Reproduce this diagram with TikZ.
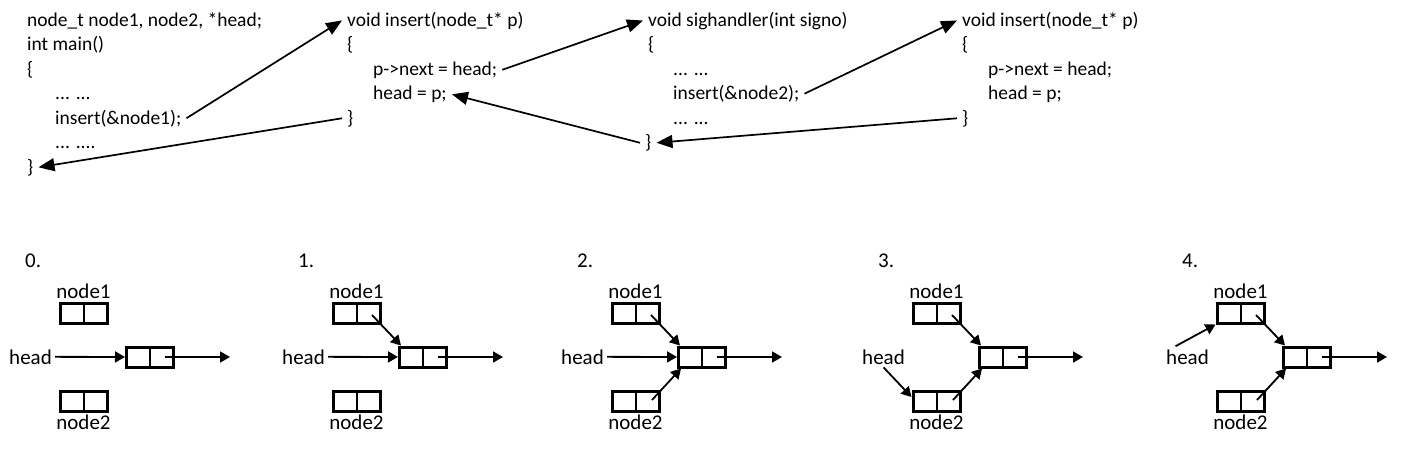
\documentclass[tikz,border=0pt]{standalone}
\usepackage{fontspec}
\setmainfont{Carlito}
\usetikzlibrary{arrows.meta,calc}
\begin{document}
\begin{tikzpicture}[x=1pt,y=-1pt,
  code/.style={anchor=base west, inner sep=5pt, font=\fontsize{19.5}{24}\selectfont},
  lbl/.style={inner sep=3pt, font=\fontsize{21}{24}\selectfont},
  bigarr/.style={line width=1.7pt, -{Triangle[length=16pt,width=13pt]}},
  arr/.style={line width=1.8pt, -{Triangle[length=10pt,width=11pt]}},
  cell/.style={draw, line width=3pt, minimum width=47pt, minimum height=20pt,
    inner sep=0pt, outer sep=1.5pt,
    path picture={\draw[line width=2pt] (path picture bounding box.north) -- (path picture bounding box.south);}}
]
\useasboundingbox (0,0) rectangle (1405,467);

% block 1
\node[code] (m1) at (22,26)    {node\_t node1, node2, *head;};
\node[code] (m2) at (22,50.5)  {int main()};
\node[code] (m3) at (22,75)    {\{};
\node[code] (m4) at (50,99.5)  {... ...};
\node[code] (m5) at (50,124)   {insert(\&node1);};
\node[code] (m6) at (50,148.5) {... ....};
\node[code] (m7) at (22,173)   {\}};

% block 2
\node[code] (a1) at (342,26)    {void insert(node\_t* p)};
\node[code] (a2) at (342,50.5)  {\{};
\node[code] (a3) at (368,75)    {p->next = head;};
\node[code] (a4) at (368,99.5)  {head = p;};
\node[code] (a5) at (342,124)   {\}};

% block 3
\node[code] (s1) at (643,26)    {void sighandler(int signo)};
\node[code] (s2) at (643,50.5)  {\{};
\node[code] (s3) at (668,75)    {... ...};
\node[code] (s4) at (668,99.5)  {insert(\&node2);};
\node[code] (s5) at (668,124)   {... ...};
\node[code] (s6) at (640,148.5) {\}};

% block 4
\node[code] (b1) at (957,26)    {void insert(node\_t* p)};
\node[code] (b2) at (957,50.5)  {\{};
\node[code] (b3) at (983,75)    {p->next = head;};
\node[code] (b4) at (983,99.5)  {head = p;};
\node[code] (b5) at (957,124)   {\}};

% call / return arrows
\draw[bigarr] (m5.east) -- (a1.west);
\draw[bigarr] (a5.west) -- (m7.east);
\draw[bigarr] (a3.east) -- (s1.west);
\draw[bigarr] (s6.west) -- (a4.east);
\draw[bigarr] (s4.east) -- (b1.west);
\draw[bigarr] (b5.west) -- (s6.east);

% panels
\foreach \i/\ox in {0/0,1/273,2/552,3/853,4/1157} {
  \node[lbl, anchor=base west] (lab\i) at (\ox+22,267) {\i.};
  \node[cell] (na\i) at (\ox+83.5,313) {};
  \node[lbl, anchor=base] (ta\i) at (\ox+83.5,298) {node1};
  \node[cell] (mid\i) at (\ox+150,357) {};
  \node[cell] (nb\i) at (\ox+83.5,401) {};
  \node[lbl, anchor=base] (tb\i) at (\ox+83.5,429) {node2};
  \node[lbl, anchor=base east] (hd\i) at (\ox+55,364) {head};
  \coordinate (end\i) at (\ox+230,357);
  \draw[arr] ([xshift=14.5pt]mid\i.center) -- (end\i);
}

% panel 0
\draw[arr] (hd0) -- (mid0);
% panel 1
\draw[arr] (hd1) -- (mid1);
\draw[arr] ([xshift=15.5pt,yshift=-2pt]na1.center) -- ([xshift=3pt]mid1.north west);
% panel 2
\draw[arr] (hd2) -- (mid2);
\draw[arr] ([xshift=15.5pt,yshift=-2pt]na2.center) -- ([xshift=3pt]mid2.north west);
\draw[arr] ([xshift=16.5pt,yshift=1pt]nb2.center) -- ([xshift=4pt]mid2.south west);
% panel 3
\draw[arr] (hd3.south) -- ([yshift=4pt]nb3.west);
\draw[arr] ([xshift=15.5pt,yshift=-2pt]na3.center) -- ([xshift=3pt]mid3.north west);
\draw[arr] ([xshift=16.5pt,yshift=1pt]nb3.center) -- ([xshift=4pt]mid3.south west);
% panel 4
\draw[arr] ([xshift=-12pt]hd4.north) -- (na4.south west);
\draw[arr] ([xshift=15.5pt,yshift=-2pt]na4.center) -- ([xshift=3pt]mid4.north west);
\draw[arr] ([xshift=16.5pt,yshift=1pt]nb4.center) -- ([xshift=4pt]mid4.south west);
\end{tikzpicture}
\end{document}
